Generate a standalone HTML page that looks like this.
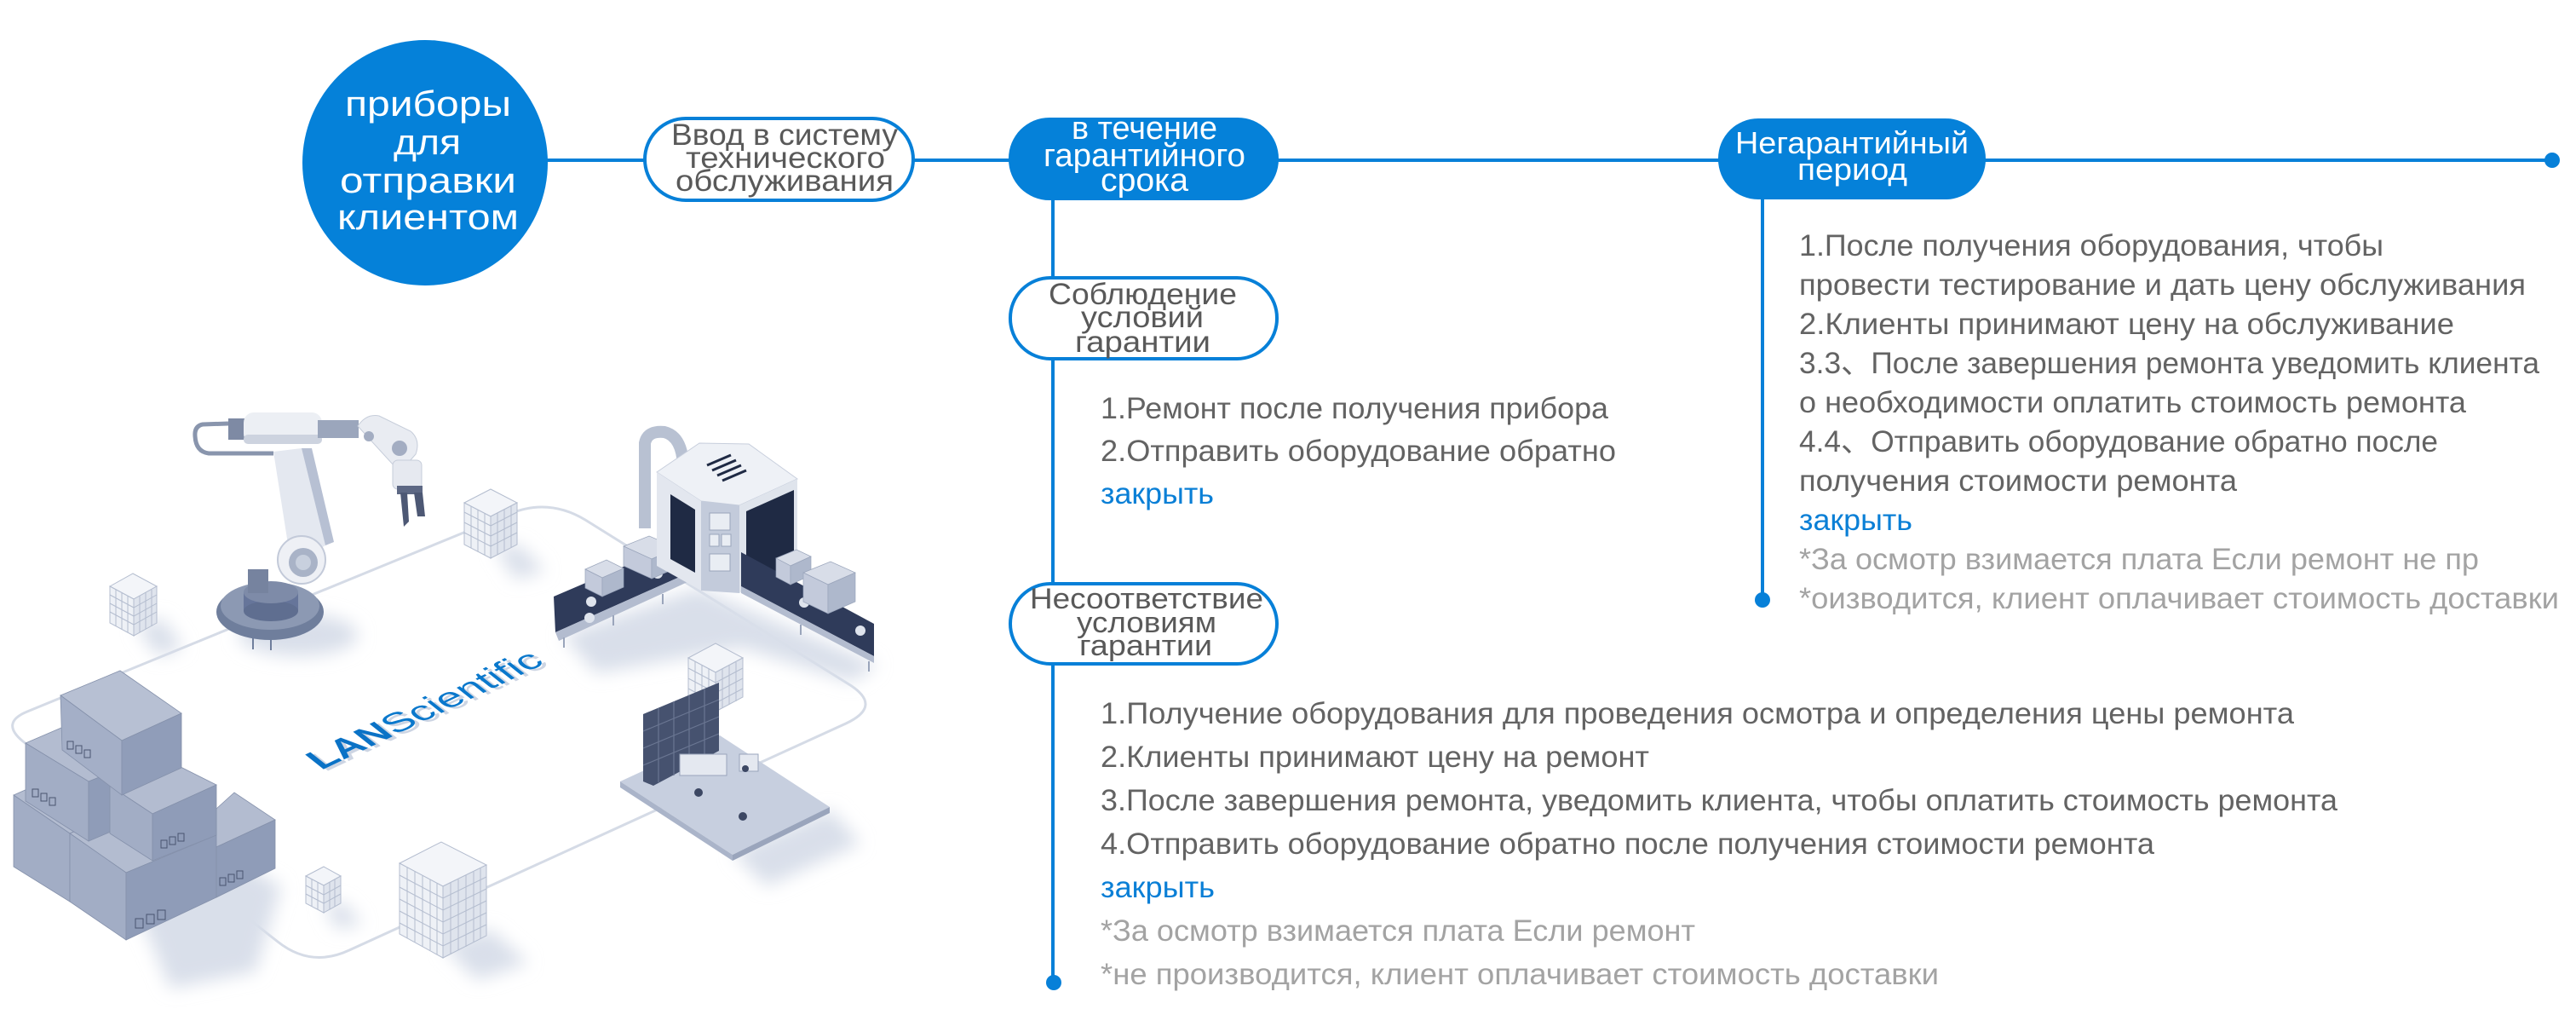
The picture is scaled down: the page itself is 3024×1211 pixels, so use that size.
<!DOCTYPE html>
<html><head><meta charset="utf-8"><style>html,body{margin:0;padding:0;background:#fff;}svg{display:block}</style></head>
<body>
<svg width="3024" height="1211" viewBox="0 0 3024 1211" xmlns="http://www.w3.org/2000/svg" font-family="'Liberation Sans','Noto Sans CJK SC',sans-serif">
<defs>
<filter id="bl" x="-50%" y="-50%" width="200%" height="200%"><feGaussianBlur stdDeviation="10"/></filter>
</defs>

<!-- ===== Illustration ===== -->
<g>
<path d="M32,835 L598,603 Q644,584 687,610 L995,802 Q1038,828 993,849 L410,1115 Q365,1136 326,1105 L27,870 Q0,848 32,835 Z" fill="none" stroke="#d5dbe6" stroke-width="3"/>

<g filter="url(#bl)" fill="#d9dfea">
<polygon points="150,1040 260,1000 330,1040 300,1140 200,1160"/>
<ellipse cx="350" cy="745" rx="70" ry="25"/>
<polygon points="660,745 820,690 1030,780 1000,800 870,760 700,790"/>
<polygon points="860,1000 975,950 1010,990 900,1040"/>
<polygon points="520,1110 575,1090 620,1130 560,1150"/>
<polygon points="160,735 190,725 215,760 185,770"/>
<polygon points="580,640 610,640 640,670 605,680"/>
<polygon points="380,1060 405,1060 425,1085 395,1090"/>
</g>

<g stroke="#b4bdcf" stroke-width="1">
<polygon points="129,688 156,673 184,688 157,703" fill="#f3f5f9"/>
<polygon points="129,688 157,703 157,746 129,731" fill="#eef1f6"/>
<polygon points="157,703 184,688 184,731 157,746" fill="#dfe4ed"/>
<path d="M136,692V735M143,696V739M150,699V742M164,699V742M171,695V738M178,692V735M129,698L157,713L184,698M129,708L157,723L184,708M129,718L157,733L184,718" fill="none"/>
</g>
<g stroke="#b4bdcf" stroke-width="1">
<polygon points="545,590 576,574 607,590 576,606" fill="#f3f5f9"/>
<polygon points="545,590 576,606 576,655 545,639" fill="#eef1f6"/>
<polygon points="576,606 607,590 607,639 576,655" fill="#dfe4ed"/>
<path d="M553,594V643M561,598V647M569,602V651M584,602V651M592,598V647M600,594V643M545,601L576,617L607,601M545,613L576,629L607,613M545,625L576,641L607,625" fill="none"/>
</g>
<g stroke="#b4bdcf" stroke-width="1">
<polygon points="808,772 840,755 872,772 840,789" fill="#f3f5f9"/>
<polygon points="808,772 840,789 840,835 808,818" fill="#eef1f6"/>
<polygon points="840,789 872,772 872,818 840,835" fill="#dfe4ed"/>
<path d="M816,776V822M824,780V826M832,784V830M848,785V831M856,781V827M864,777V823M808,784L840,801L872,784M808,796L840,813L872,796M808,808L840,825L872,808" fill="none"/>
</g>
<g stroke="#b4bdcf" stroke-width="1">
<polygon points="469,1013 518,988 571,1015 520,1040" fill="#f3f5f9"/>
<polygon points="469,1013 520,1040 520,1124 469,1096" fill="#eef1f6"/>
<polygon points="520,1040 571,1015 571,1098 520,1124" fill="#dfe4ed"/>
<path d="M478,1018V1101M487,1023V1106M496,1027V1111M505,1032V1115M513,1036V1120M529,1036V1120M538,1032V1115M547,1027V1111M556,1023V1106M564,1019V1102M469,1027L520,1054L571,1029M469,1041L520,1068L571,1043M469,1055L520,1082L571,1057M469,1069L520,1096L571,1071M469,1083L520,1110L571,1085" fill="none"/>
</g>
<g stroke="#b4bdcf" stroke-width="1">
<polygon points="359,1028 380,1017 400,1028 380,1039" fill="#f3f5f9"/>
<polygon points="359,1028 380,1039 380,1071 359,1060" fill="#eef1f6"/>
<polygon points="380,1039 400,1028 400,1060 380,1071" fill="#dfe4ed"/>
<path d="M366,1032V1064M373,1035V1067M387,1035V1067M393,1032V1064M359,1039L380,1050L400,1039M359,1049L380,1060L400,1049" fill="none"/>
</g>

<!-- boxes pile -->
<g stroke="#8591ab" stroke-width="0.8">
<polygon points="16,933 50,918 116,962 82,978" fill="#b3bcd0"/>
<polygon points="16,933 82,978 82,1058 16,1017" fill="#a2adc5"/>
<polygon points="82,978 188,934 254,980 148,1024" fill="#b3bcd0"/>
<polygon points="82,978 148,1024 148,1103 82,1058" fill="#a2adc5"/>
<polygon points="148,1024 254,980 254,1053 148,1103" fill="#8f9cb8"/>
<polygon points="30,872 100,842 172,890 104,917" fill="#b3bcd0"/>
<polygon points="30,872 104,917 104,987 30,940" fill="#a2adc5"/>
<polygon points="104,917 172,890 172,958 104,987" fill="#8f9cb8"/>
<polygon points="254,949 275,930 323,962 254,994" fill="#b3bcd0"/>
<polygon points="254,994 323,962 323,1019 254,1053" fill="#8f9cb8"/>
<polygon points="129,922 200,894 254,921 179,955" fill="#b3bcd0"/>
<polygon points="129,922 179,955 179,1010 129,978" fill="#a2adc5"/>
<polygon points="179,955 254,921 254,980 179,1010" fill="#8f9cb8"/>
<polygon points="71,816 141,787 213,837 143,869" fill="#b7c0d3"/>
<polygon points="71,816 143,869 143,933 73,880" fill="#a4afc7"/>
<polygon points="143,869 213,837 213,901 143,933" fill="#909db9"/>
</g>
<g fill="none" stroke="#4a5570" stroke-width="1">
<rect x="79" y="870" width="7" height="9"/>
<rect x="89" y="875" width="7" height="9"/>
<rect x="99" y="880" width="7" height="9"/>
<rect x="38" y="926" width="7" height="9"/>
<rect x="48" y="931" width="7" height="9"/>
<rect x="58" y="936" width="7" height="9"/>
<rect x="159" y="1078" width="9" height="11"/>
<rect x="172" y="1073" width="9" height="11"/>
<rect x="185" y="1068" width="9" height="11"/>
<rect x="189" y="986" width="7" height="9"/>
<rect x="199" y="982" width="7" height="9"/>
<rect x="209" y="978" width="7" height="9"/>
<rect x="258" y="1030" width="7" height="9"/>
<rect x="268" y="1026" width="7" height="9"/>
<rect x="278" y="1022" width="7" height="9"/>
</g>

<!-- robot arm -->
<g>
<ellipse cx="317" cy="718" rx="63" ry="33" fill="#6f7e9c"/>
<ellipse cx="317" cy="711" rx="58" ry="28" fill="#8c99b3"/>
<line x1="297" y1="748" x2="297" y2="762" stroke="#6f7e9c" stroke-width="2"/>
<line x1="318" y1="749" x2="318" y2="763" stroke="#6f7e9c" stroke-width="2"/>
<rect x="286" y="695" width="64" height="22" fill="#66759a"/>
<ellipse cx="318" cy="717" rx="32" ry="12" fill="#5f6e90"/>
<ellipse cx="318" cy="695" rx="32" ry="13" fill="#7e8ba8"/>
<rect x="291" y="668" width="24" height="28" fill="#76839f"/>
<path d="M268,497 L238,498 Q228,500 229,512 Q230,530 245,532 L321,532" fill="none" stroke="#8995ad" stroke-width="5"/>
<polygon points="321,530 354,526 382,640 342,664" fill="#e4e8f0"/>
<polygon points="354,526 366,526 392,636 382,640" fill="#b7c0d3"/>
<circle cx="354" cy="657" r="28" fill="#eef0f5" stroke="#c3cad9" stroke-width="2"/>
<circle cx="356" cy="660" r="17" fill="#a9b3c7"/>
<circle cx="356" cy="660" r="9" fill="#c8d0de"/>
<rect x="268" y="491" width="21" height="25" fill="#7e8aa4"/>
<rect x="286" y="484" width="92" height="37" rx="12" fill="#eceff4"/>
<rect x="286" y="510" width="92" height="11" rx="5" fill="#cdd3df"/>
<rect x="373" y="493" width="48" height="21" fill="#9ba6bc"/>
<path d="M420,500 Q430,485 445,488 L482,506 Q494,516 488,533 L480,542 L462,546 Z" fill="#e9ecf2" stroke="#c6cdda" stroke-width="1"/>
<circle cx="433" cy="512" r="6" fill="#a3adc2"/>
<circle cx="469" cy="526" r="9" fill="#a3adc2"/>
<rect x="461" y="540" width="34" height="34" rx="6" fill="#e6e9f0" stroke="#c6cdda" stroke-width="1"/>
<rect x="466" y="570" width="30" height="10" fill="#5d6884"/>
<polygon points="470,578 478,578 480,612 474,618" fill="#4d5874"/>
<polygon points="486,578 496,578 499,606 490,606" fill="#4d5874"/>
</g>

<!-- machine & conveyors -->
<g>
<polygon points="650,700 818,628 818,668 652,742" fill="#2f3b5a"/>
<polygon points="652,742 818,668 818,678 656,752" fill="#b3bccf"/>
<line x1="662" y1="748" x2="662" y2="760" stroke="#9aa5bb" stroke-width="2"/>
<line x1="720" y1="722" x2="720" y2="734" stroke="#9aa5bb" stroke-width="2"/>
<line x1="778" y1="697" x2="778" y2="709" stroke="#9aa5bb" stroke-width="2"/>
<circle cx="694" cy="706" r="6" fill="#dfe4ed"/><circle cx="772" cy="673" r="6" fill="#dfe4ed"/>
<circle cx="692" cy="725" r="6" fill="#dfe4ed"/>
<g stroke="#9aa5bb" stroke-width="0.7">
<polygon points="687,668 712,657 732,667 707,678" fill="#d8dde8"/>
<polygon points="687,668 707,678 707,700 687,690" fill="#c3cadb"/>
<polygon points="707,678 732,667 732,689 707,700" fill="#aeb8cc"/>
<polygon points="732,641 762,629 795,643 765,656" fill="#d8dde8"/>
<polygon points="732,641 765,656 765,679 732,664" fill="#c3cadb"/>
<polygon points="765,656 795,643 795,666 765,679" fill="#aeb8cc"/>
</g>
<path d="M757,620 L757,520 Q760,505 780,507 Q800,512 802,545" fill="none" stroke="#b8c1d2" stroke-width="14"/>
<polygon points="771,554 821,520 879,521 936,562 868,593 823,588" fill="#eef1f6" stroke="#c7cedc" stroke-width="1"/>
<polygon points="771,554 823,588 823,693 771,664" fill="#e3e7ef"/>
<polygon points="787,580 816,598 816,672 787,656" fill="#1f2a44"/>
<polygon points="823,588 868,593 868,696 823,693" fill="#c3cbdb"/>
<rect x="833" y="602" width="24" height="20" fill="#e9edf3" stroke="#9aa5bb" stroke-width="1"/>
<rect x="833" y="627" width="11" height="14" fill="#e9edf3" stroke="#9aa5bb" stroke-width="1"/>
<rect x="847" y="627" width="11" height="14" fill="#e9edf3" stroke="#9aa5bb" stroke-width="1"/>
<rect x="833" y="650" width="24" height="20" fill="#e9edf3" stroke="#9aa5bb" stroke-width="1"/>
<polygon points="868,593 936,562 936,660 868,696" fill="#dfe4ec"/>
<polygon points="876,600 932,575 932,664 876,690" fill="#1f2a44"/>
<g stroke="#1f2a44" stroke-width="3">
<line x1="830" y1="546" x2="858" y2="534"/><line x1="836" y1="552" x2="864" y2="540"/>
<line x1="842" y1="558" x2="870" y2="546"/><line x1="848" y1="564" x2="876" y2="552"/>
</g>
<polygon points="870,648 1026,732 1026,770 870,688" fill="#2f3b5a"/>
<polygon points="870,688 1026,770 1026,778 870,696" fill="#b3bccf"/>
<line x1="1020" y1="776" x2="1020" y2="788" stroke="#9aa5bb" stroke-width="2"/>
<line x1="940" y1="733" x2="940" y2="745" stroke="#9aa5bb" stroke-width="2"/>
<circle cx="1010" cy="740" r="6" fill="#dfe4ed"/><circle cx="944" cy="707" r="6" fill="#dfe4ed"/>
<g stroke="#9aa5bb" stroke-width="0.7">
<polygon points="911,655 935,645 952,653 928,664" fill="#d8dde8"/>
<polygon points="911,655 928,664 928,686 911,677" fill="#c3cadb"/>
<polygon points="928,664 952,653 952,675 928,686" fill="#aeb8cc"/>
<polygon points="943,672 975,659 1004,672 972,686" fill="#d8dde8"/>
<polygon points="943,672 972,686 972,720 943,706" fill="#c3cadb"/>
<polygon points="972,686 1004,672 1004,706 972,720" fill="#aeb8cc"/>
</g>
</g>

<!-- office -->
<g>
<polygon points="728,917 845,863 974,947 860,1003" fill="#c7cfdf"/>
<polygon points="728,917 860,1003 860,1010 728,924" fill="#aab4c9"/>
<polygon points="860,1003 974,947 974,954 860,1010" fill="#9aa5bc"/>
<polygon points="755,838 844,801 844,881 767,922 755,917" fill="#46526f"/>
<g stroke="#6a7692" stroke-width="1.2" fill="none">
<path d="M773,831V918M791,823V910M809,816V902M827,808V894"/>
<path d="M755,858L844,821M755,878L844,841M755,898L844,861"/>
</g>
<rect x="798" y="885" width="55" height="25" fill="#e4e8f0" stroke="#9aa5bb" stroke-width="1"/>
<rect x="868" y="885" width="22" height="20" fill="#e4e8f0" stroke="#9aa5bb" stroke-width="1"/>
<circle cx="820" cy="930" r="5" fill="#3c4763"/><circle cx="872" cy="958" r="5" fill="#3c4763"/><circle cx="875" cy="902" r="4" fill="#3c4763"/>
</g>

<!-- LANScientific logo -->
<g transform="translate(377,904) rotate(-25.5) skewX(26)">
<text x="2" y="4" font-size="36" fill="#cdd5e3" font-weight="bold" textLength="96" lengthAdjust="spacingAndGlyphs">LAN</text>
<text x="98" y="4" font-size="36" fill="#cdd5e3" textLength="196" lengthAdjust="spacingAndGlyphs">Scientific</text>
<text x="0" y="0" font-size="36" fill="#0a72c6" font-weight="bold" textLength="96" lengthAdjust="spacingAndGlyphs">LAN</text>
<text x="96" y="0" font-size="36" fill="#0a78cc" textLength="196" lengthAdjust="spacingAndGlyphs">Scientific</text>
</g>
</g>

<!-- ===== Connectors ===== -->
<g stroke="#0780d8" fill="none">
<line x1="630" y1="188" x2="2996" y2="188" stroke-width="4"/>
<line x1="1236" y1="230" x2="1236" y2="1153" stroke-width="4"/>
<line x1="2069" y1="230" x2="2069" y2="704" stroke-width="4"/>
</g>
<g fill="#0780d8">
<circle cx="2996" cy="188" r="9"/>
<circle cx="2069" cy="704" r="9"/>
<circle cx="1237" cy="1153" r="9"/>
</g>

<!-- ===== Nodes ===== -->
<circle cx="499" cy="191" r="144" fill="#0581d9"/>
<g fill="#ffffff" font-size="42">
<text x="405" y="136" textLength="195" lengthAdjust="spacingAndGlyphs">приборы</text>
<text x="462" y="181" textLength="79" lengthAdjust="spacingAndGlyphs">для</text>
<text x="399" y="226" textLength="207" lengthAdjust="spacingAndGlyphs">отправки</text>
<text x="396" y="269" textLength="213" lengthAdjust="spacingAndGlyphs">клиентом</text>
</g>

<rect x="757" y="139" width="315" height="96" rx="48" fill="#fff" stroke="#0780d8" stroke-width="4"/>
<g fill="#595959" font-size="35">
<text x="788" y="170" textLength="266" lengthAdjust="spacingAndGlyphs">Ввод в систему</text>
<text x="805" y="197" textLength="234" lengthAdjust="spacingAndGlyphs">технического</text>
<text x="793" y="224" textLength="256" lengthAdjust="spacingAndGlyphs">обслуживания</text>
</g>

<rect x="1184" y="138" width="317" height="97" rx="48" fill="#0581d9"/>
<g fill="#ffffff" font-size="38">
<text x="1258" y="163" textLength="171" lengthAdjust="spacingAndGlyphs">в течение</text>
<text x="1225" y="195" textLength="237" lengthAdjust="spacingAndGlyphs">гарантийного</text>
<text x="1292" y="224" textLength="103" lengthAdjust="spacingAndGlyphs">срока</text>
</g>

<rect x="2017" y="139" width="314" height="95" rx="47" fill="#0581d9"/>
<g fill="#ffffff" font-size="36">
<text x="2037" y="180" textLength="274" lengthAdjust="spacingAndGlyphs">Негарантийный</text>
<text x="2110" y="211" textLength="129" lengthAdjust="spacingAndGlyphs">период</text>
</g>

<rect x="1186" y="326" width="313" height="95" rx="47" fill="#fff" stroke="#0780d8" stroke-width="4"/>
<g fill="#595959" font-size="35">
<text x="1231" y="357" textLength="221" lengthAdjust="spacingAndGlyphs">Соблюдение</text>
<text x="1269" y="384" textLength="144" lengthAdjust="spacingAndGlyphs">условий</text>
<text x="1262" y="413" textLength="159" lengthAdjust="spacingAndGlyphs">гарантии</text>
</g>

<rect x="1186" y="685" width="313" height="94" rx="47" fill="#fff" stroke="#0780d8" stroke-width="4"/>
<g fill="#595959" font-size="34">
<text x="1209" y="714" textLength="274" lengthAdjust="spacingAndGlyphs">Несоответствие</text>
<text x="1264" y="742" textLength="164" lengthAdjust="spacingAndGlyphs">условиям</text>
<text x="1267" y="769" textLength="156" lengthAdjust="spacingAndGlyphs">гарантии</text>
</g>

<!-- ===== Text blocks ===== -->
<g font-size="35" fill="#636363">
<text x="1292" y="491" textLength="596" lengthAdjust="spacingAndGlyphs">1.Ремонт после получения прибора</text>
<text x="1292" y="541" textLength="605" lengthAdjust="spacingAndGlyphs">2.Отправить оборудование обратно</text>
<text x="1292" y="591" fill="#0a7fd6" textLength="133" lengthAdjust="spacingAndGlyphs">закрыть</text>

<text x="1292" y="849" textLength="1401" lengthAdjust="spacingAndGlyphs">1.Получение оборудования для проведения осмотра и определения цены ремонта</text>
<text x="1292" y="900" textLength="644" lengthAdjust="spacingAndGlyphs">2.Клиенты принимают цену на ремонт</text>
<text x="1292" y="951" textLength="1452" lengthAdjust="spacingAndGlyphs">3.После завершения ремонта, уведомить клиента, чтобы оплатить стоимость ремонта</text>
<text x="1292" y="1002" textLength="1237" lengthAdjust="spacingAndGlyphs">4.Отправить оборудование обратно после получения стоимости ремонта</text>
<text x="1292" y="1053" fill="#0a7fd6" textLength="134" lengthAdjust="spacingAndGlyphs">закрыть</text>
<text x="1292" y="1104" fill="#a3a3a3" textLength="698" lengthAdjust="spacingAndGlyphs">*За осмотр взимается плата Если ремонт</text>
<text x="1292" y="1155" fill="#a3a3a3" textLength="984" lengthAdjust="spacingAndGlyphs">*не производится, клиент оплачивает стоимость доставки</text>

<text x="2112" y="300" textLength="686" lengthAdjust="spacingAndGlyphs">1.После получения оборудования, чтобы</text>
<text x="2112" y="346" textLength="853" lengthAdjust="spacingAndGlyphs">провести тестирование и дать цену обслуживания</text>
<text x="2112" y="392" textLength="769" lengthAdjust="spacingAndGlyphs">2.Клиенты принимают цену на обслуживание</text>
<text x="2112" y="438" textLength="869" lengthAdjust="spacingAndGlyphs">3.3、После завершения ремонта уведомить клиента</text>
<text x="2112" y="484" textLength="783" lengthAdjust="spacingAndGlyphs">о необходимости оплатить стоимость ремонта</text>
<text x="2112" y="530" textLength="750" lengthAdjust="spacingAndGlyphs">4.4、Отправить оборудование обратно после</text>
<text x="2112" y="576" textLength="514" lengthAdjust="spacingAndGlyphs">получения стоимости ремонта</text>
<text x="2112" y="622" fill="#0a7fd6" textLength="133" lengthAdjust="spacingAndGlyphs">закрыть</text>
<text x="2112" y="668" fill="#a3a3a3" textLength="798" lengthAdjust="spacingAndGlyphs">*За осмотр взимается плата Если ремонт не пр</text>
<text x="2112" y="714" fill="#a3a3a3" textLength="892" lengthAdjust="spacingAndGlyphs">*оизводится, клиент оплачивает стоимость доставки</text>
</g>
</svg>
</body></html>
